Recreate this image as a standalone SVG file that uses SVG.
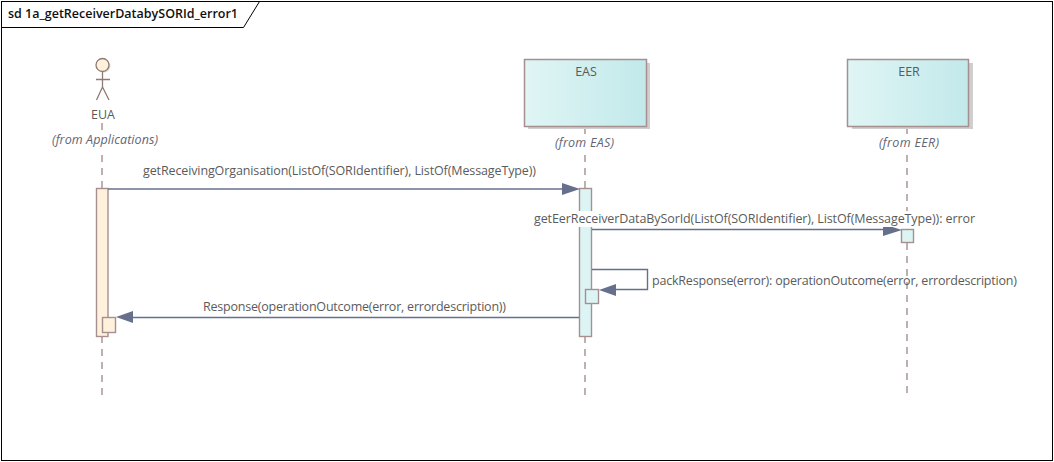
<svg xmlns="http://www.w3.org/2000/svg" width="1054" height="462" viewBox="0 0 1054 462">
<style>
text{font-family:"Open Sans","Noto Sans","Liberation Sans",sans-serif;font-size:12.5px;fill:#5b5b5b}
.m{text-anchor:middle}
.i{font-style:italic;fill:#5f6678}
.ll{stroke:#a58f8f;stroke-width:1.4;stroke-dasharray:7 6;fill:none}
.box{stroke:#a58f8f;stroke-width:1.5}
.sh{fill:#cfcfcf}
.act{fill:#dcf4f4;stroke:#a58f8f;stroke-width:1.4}
.acto{fill:#fff1dc;stroke:#a58f8f;stroke-width:1.4}
.msg{stroke:#66708c;stroke-width:1.4;fill:none}
.ah{fill:#66708c}
.ac{stroke:#8f7a76;stroke-width:1.3;fill:none}
</style>
<defs>
<linearGradient id="g"><stop offset="0" stop-color="#e0f5f5"/><stop offset="1" stop-color="#c2e9ea"/></linearGradient>
</defs>
<rect width="1054" height="462" fill="#fff"/>
<g id="frame">
<rect x="1.500" y="1.500" width="1051" height="459" fill="none" stroke="#000" stroke-width="1"/>
<path d="M1.500 27.500H243.500L259.500 1.500" fill="none" stroke="#000" stroke-width="1"/>
<text x="8" y="18" style="font-weight:600;fill:#111;font-size:12.5px" textLength="230">sd 1a_getReceiverDatabySORId_error1</text>
</g>
<g id="lifelines">
<path class="ll" d="M102 123V132M102 155V188M102 336V396"/>
<path class="ll" d="M585 127V134M585 155V188M585 336V398"/>
<path class="ll" d="M907 127V134M907 155V230M907 243V398"/>
</g>
<g id="EUA">
<circle cx="104" cy="66" r="6.500" class="sh" fill-opacity=".7"/>
<circle cx="102.500" cy="65" r="6.500" fill="#fff1dc" stroke="#8f7a76" stroke-width="1.300"/>
<path class="ac" d="M102.500 72V87M96 79.500H110M96.500 100L102.500 87L109 100"/>
<text class="m" x="103" y="119">EUA</text>
<text class="m i" x="105" y="144" textLength="106">(from Applications)</text>
<rect class="acto" x="96.500" y="188.500" width="11.500" height="148"/>
<rect class="acto" x="102.500" y="317.500" width="13" height="15"/>
</g>
<g id="EAS">
<rect class="sh" x="528" y="63" width="122" height="66"/>
<rect class="box" x="524.500" y="59.500" width="122" height="67" fill="url(#g)"/>
<text class="m" x="586" y="76">EAS</text>
<text class="m i" x="584.500" y="147" textLength="59">(from EAS)</text>
<rect class="act" x="579.500" y="188.500" width="12" height="148"/>
<rect class="act" x="585.500" y="289.500" width="13" height="14"/>
</g>
<g id="EER">
<rect class="sh" x="852" y="63" width="121" height="66"/>
<rect class="box" x="847.500" y="59.500" width="121" height="67" fill="url(#g)"/>
<text class="m" x="909" y="76">EER</text>
<text class="m i" x="909" y="147" textLength="60">(from EER)</text>
<rect class="act" x="901.500" y="229.500" width="12" height="13"/>
</g>
<g id="connectors">
<path class="msg" d="M108 189H563"/>
<path class="ah" d="M580 189L562 183V195Z"/>
<path class="msg" d="M592 229.500H885"/>
<path class="ah" d="M902 230L883 224V236Z"/>
<path class="msg" d="M592 269.500H647.500V289.500H615"/>
<path class="ah" d="M599 290L616 284V296Z"/>
<path class="msg" d="M579 317.500H132"/>
<path class="ah" d="M116 317L133 311V323Z"/>
</g>
<g id="labels">
<text x="143" y="175" textLength="393">getReceivingOrganisation(ListOf(SORIdentifier), ListOf(MessageType))</text>
<rect x="534" y="211" width="441" height="16" fill="#fff"/>
<text x="534" y="223" textLength="441">getEerReceiverDataBySorId(ListOf(SORIdentifier), ListOf(MessageType)): error</text>
<text x="652" y="285" textLength="365">packResponse(error): operationOutcome(error, errordescription)</text>
<text x="203" y="311" textLength="303">Response(operationOutcome(error, errordescription))</text>
</g>
</svg>
